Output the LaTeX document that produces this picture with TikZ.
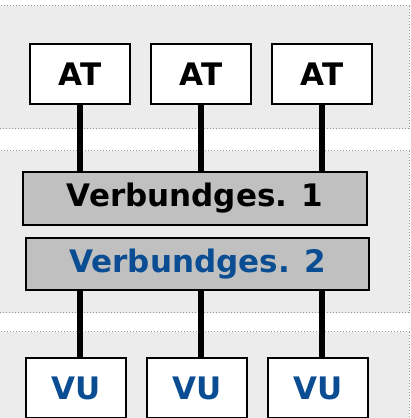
\documentclass[tikz,border=0pt]{standalone}
\usepackage{fontspec}
\setmainfont{DejaVu Sans}
\usetikzlibrary{backgrounds}
\definecolor{bandgray}{HTML}{ECECEC}
\definecolor{boxgray}{HTML}{C0C0C0}
\definecolor{dashgray}{HTML}{999999}
\definecolor{vublue}{HTML}{0A4D92}
\tikzset{
  x=1pt,y=1pt,
  band/.style={fill=bandgray,draw=dashgray,line width=1pt,dash pattern=on 1.2pt off 1.8pt},
  whitebox/.style={draw=black,fill=white,line width=2.6pt,minimum width=100pt,minimum height=60pt,inner sep=0pt,font=\fontsize{31}{31}\selectfont\bfseries},
  graybox/.style={draw=black,fill=boxgray,line width=2.2pt,inner sep=0pt,font=\fontsize{31}{31}\selectfont\bfseries},
  conn/.style={line width=5.5pt,black}
}
\begin{document}
\begin{tikzpicture}
\useasboundingbox (0,0) rectangle (411,418);
% nodes (y = 418 - pixel y)
\node[whitebox] (at1) at (80,344) {AT};
\node[whitebox] (at2) at (201,344) {AT};
\node[whitebox] (at3) at (322,344) {AT};
\node[graybox,minimum width=344pt,minimum height=53pt] (v1) at (195,219.5) {Verbundges. 1};
\node[graybox,minimum width=343pt,minimum height=52pt,text=vublue] (v2) at (197.5,154) {Verbundges. 2};
\node[whitebox,text=vublue] (vu1) at (76,30) {VU};
\node[whitebox,text=vublue] (vu2) at (197,30) {VU};
\node[whitebox,text=vublue] (vu3) at (318,30) {VU};
\begin{pgfonlayer}{background}
  \path[band] (-2,289) rectangle (409,412);
  \path[band] (-2,105) rectangle (409,267);
  \path[band] (-2,-10) rectangle (409,86);
  \foreach \i in {1,2,3}{
    \draw[conn] (at\i.south) -- (at\i.south |- v1.north);
    \draw[conn] (at\i.south |- v2.south) -- (at\i.south |- vu\i.north);
  }
\end{pgfonlayer}
\end{tikzpicture}
\end{document}
